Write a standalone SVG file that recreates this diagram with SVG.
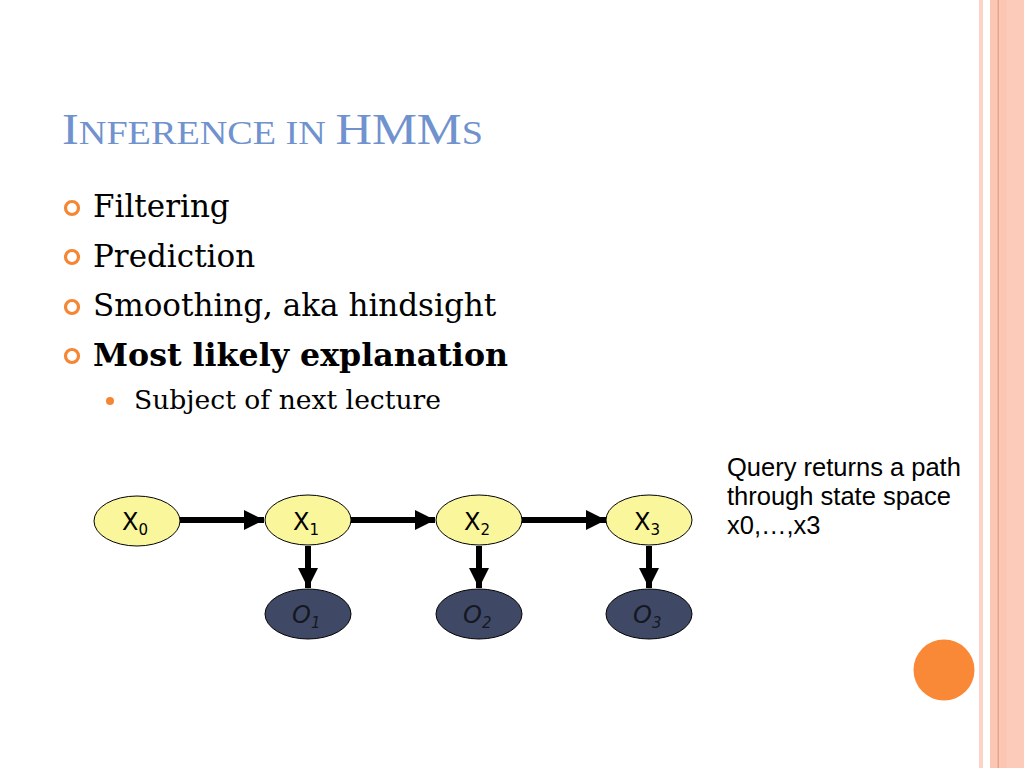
<svg xmlns="http://www.w3.org/2000/svg" width="1024" height="768" viewBox="0 0 1024 768">
<defs>
<style>
.title{font-family:"Liberation Serif",serif;fill:#7092CE;}
.b1{font-family:"DejaVu Serif","Liberation Serif",serif;font-size:31px;fill:#000;}
.b2{font-family:"DejaVu Serif","Liberation Serif",serif;font-size:26px;fill:#000;}
.ring{fill:none;stroke:#F58634;stroke-width:3.2;}
.xs{fill:#FAF69C;stroke:#000;stroke-width:1;}
.os{fill:#3F4966;stroke:#000;stroke-width:1;}
.lab{font-family:"DejaVu Sans","Liberation Sans",sans-serif;font-size:24px;fill:#000;}
.olab{font-family:"DejaVu Sans","Liberation Sans",sans-serif;font-size:24px;font-style:italic;fill:#151820;}
.sub{font-size:15px;}
.edge{stroke:#000;stroke-width:6;fill:none;marker-end:url(#ah);}
.note{font-family:"Liberation Sans",Arial,sans-serif;font-size:25.5px;fill:#000;}
</style>
<marker id="ah" markerUnits="userSpaceOnUse" viewBox="0 0 20 20" refX="20" refY="10" markerWidth="20" markerHeight="20" orient="auto">
<path d="M0,0 L20,10 L0,20 Z" fill="#000"/>
</marker>
</defs>
<rect width="1024" height="768" fill="#fff"/>
<!-- right decorative stripes -->
<rect x="979" y="0" width="4" height="768" fill="#FCD3C4"/>
<rect x="990" y="0" width="34" height="768" fill="#FBC7B4"/>
<rect x="997.5" y="0" width="1.5" height="768" fill="#E9A48C"/>
<rect x="1007" y="0" width="17" height="768" fill="#FCCBB9"/>
<!-- title -->
<text class="title" x="62" y="144" textLength="421" lengthAdjust="spacingAndGlyphs"><tspan font-size="45">I</tspan><tspan font-size="34">NFERENCE IN </tspan><tspan font-size="45">HMM</tspan><tspan font-size="34">S</tspan></text>
<!-- bullets -->
<g id="bullets">
<circle class="ring" cx="72" cy="208" r="6.5"/>
<circle class="ring" cx="72" cy="257" r="6.5"/>
<circle class="ring" cx="72" cy="307" r="6.5"/>
<circle class="ring" cx="72" cy="356" r="6.5"/>
<circle cx="110" cy="401" r="4" fill="#F58634"/>
<text class="b1" x="93" y="217">Filtering</text>
<text class="b1" x="93" y="267">Prediction</text>
<text class="b1" x="93" y="316">Smoothing, aka hindsight</text>
<text class="b1" x="93" y="366" font-weight="bold" textLength="415" lengthAdjust="spacingAndGlyphs">Most likely explanation</text>
<text class="b2" x="134" y="409" textLength="307" lengthAdjust="spacingAndGlyphs">Subject of next lecture</text>
</g>
<!-- connectors -->
<g id="connectors">
<line class="edge" x1="180" y1="520" x2="264" y2="520"/>
<line class="edge" x1="351" y1="520" x2="435" y2="520"/>
<line class="edge" x1="522" y1="520" x2="606" y2="520"/>
<line class="edge" x1="308" y1="546" x2="308" y2="588"/>
<line class="edge" x1="479" y1="546" x2="479" y2="588"/>
<line class="edge" x1="649" y1="546" x2="649" y2="588"/>
</g>
<g id="X0"><ellipse class="xs" cx="137" cy="521" rx="43" ry="25"/><text class="lab" x="122" y="530">X<tspan class="sub" dy="5">0</tspan></text></g>
<g id="X1"><ellipse class="xs" cx="308" cy="520" rx="43" ry="25"/><text class="lab" x="293" y="530">X<tspan class="sub" dy="5">1</tspan></text></g>
<g id="X2"><ellipse class="xs" cx="479" cy="520" rx="43" ry="25"/><text class="lab" x="464" y="530">X<tspan class="sub" dy="5">2</tspan></text></g>
<g id="X3"><ellipse class="xs" cx="649" cy="520" rx="43" ry="25"/><text class="lab" x="634" y="530">X<tspan class="sub" dy="5">3</tspan></text></g>
<g id="O1"><ellipse class="os" cx="308" cy="614" rx="43" ry="25"/><text class="olab" x="292" y="623">O<tspan class="sub" dy="5">1</tspan></text></g>
<g id="O2"><ellipse class="os" cx="479" cy="614" rx="43" ry="25"/><text class="olab" x="463" y="623">O<tspan class="sub" dy="5">2</tspan></text></g>
<g id="O3"><ellipse class="os" cx="649" cy="614" rx="43" ry="25"/><text class="olab" x="633" y="623">O<tspan class="sub" dy="5">3</tspan></text></g>
<g id="note">
<text class="note" x="727" y="476">Query returns a path</text>
<text class="note" x="727" y="505">through state space</text>
<text class="note" x="727" y="534">x0,…,x3</text>
</g>
<circle cx="944" cy="670" r="30.5" fill="#F98837"/>
</svg>
